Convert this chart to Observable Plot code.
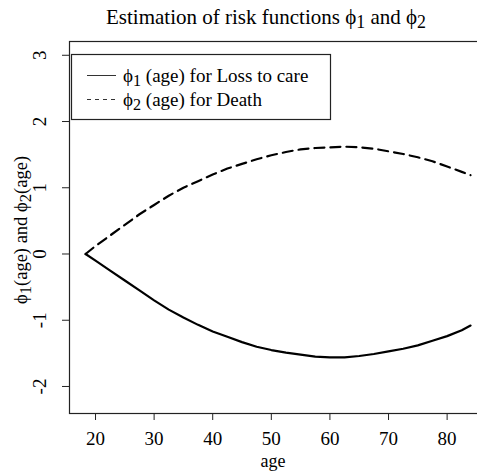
<!DOCTYPE html>
<html><head><meta charset="utf-8">
<script src="https://cdn.jsdelivr.net/npm/d3@7"></script>
<script src="https://cdn.jsdelivr.net/npm/@observablehq/plot@0.6"></script>
<style>html,body{margin:0;padding:0;background:#fff;overflow:hidden}</style>
</head><body><div id="chart"></div>
<script>
const ages = [18.3, 20, 22.5, 25, 27.5, 30, 32.5, 35, 37.5, 40, 42.5, 45, 47.5, 50, 52.5, 55, 57.5, 60, 62.5, 65, 67.5, 70, 72.5, 75, 77.5, 80, 82.5, 84];
const phi1 = [0, -0.10, -0.25, -0.40, -0.55, -0.70, -0.84, -0.96, -1.07, -1.17, -1.25, -1.33, -1.40, -1.45, -1.49, -1.52, -1.55, -1.56, -1.56, -1.54, -1.51, -1.47, -1.43, -1.38, -1.31, -1.24, -1.15, -1.08];
const phi2 = [0, 0.12, 0.28, 0.44, 0.60, 0.74, 0.88, 1.00, 1.10, 1.20, 1.29, 1.36, 1.43, 1.49, 1.54, 1.58, 1.60, 1.61, 1.62, 1.61, 1.59, 1.55, 1.51, 1.46, 1.40, 1.32, 1.24, 1.19];
const xTicks = [20, 30, 40, 50, 60, 70, 80];
const yTicks = [-2, -1, 0, 1, 2, 3];
const PHI = "\u03D5";
const legendLabels = [[PHI, "1", " (age) for Loss to care"], [PHI, "2", " (age) for Death"]];

const d1 = ages.map((a, i) => ({age: a, v: phi1[i]}));
const d2 = ages.map((a, i) => ({age: a, v: phi2[i]}));
const FONT = "Liberation Serif, Times New Roman, serif";

const chart = Plot.plot({
  width: 477, height: 474,
  marginLeft: 69, marginRight: -8, marginTop: 41, marginBottom: 61,
  style: {fontFamily: FONT, fontSize: "18px", background: "#fff", color: "#000"},
  x: {domain: [15.56, 86.55]},
  y: {domain: [-2.408, 3.208]},
  marks: [
    Plot.frame({stroke: "#222", strokeWidth: 1.2}),
    Plot.axisX({ticks: xTicks, tickSize: 7, tickPadding: 11, fontSize: 19, label: null, stroke: "#222", tickFormat: d => String(d)}),
    Plot.axisY({ticks: yTicks, tickSize: 7, tickPadding: 17, tickRotate: -90, textAnchor: "middle", fontSize: 19, label: null, stroke: "#222",
      tickFormat: d => d < 0 ? "-" + Math.abs(d) : String(d)}),
    Plot.line(d1, {x: "age", y: "v", stroke: "#000", strokeWidth: 2.2, curve: "linear"}),
    Plot.line(d2, {x: "age", y: "v", stroke: "#000", strokeWidth: 2.2, strokeDasharray: "10,6", curve: "linear"})
  ]
});
document.getElementById("chart").appendChild(chart);

const svg = d3.select(chart);
function subText(sel, parts, subSize) {
  parts.forEach(([t, sub]) => {
    const ts = sel.append("tspan").text(t);
    if (sub) ts.attr("font-size", subSize).attr("baseline-shift", "-22%");
  });
}
// Title
const title = svg.append("text").attr("x", 266).attr("y", 24).attr("text-anchor", "middle")
  .attr("font-family", FONT).attr("font-size", 21).attr("fill", "#000");
subText(title, [["Estimation of risk functions " + PHI, false], ["1", true], [" and " + PHI, false], ["2", true]], "0.85em");

// x label
svg.append("text").attr("x", 273).attr("y", 467).attr("text-anchor", "middle")
  .attr("font-family", FONT).attr("font-size", 18).text("age");

// y label
const yl = svg.append("text").attr("transform", "translate(27,230) rotate(-90)").attr("text-anchor", "middle")
  .attr("font-family", FONT).attr("font-size", 18.5);
subText(yl, [[PHI, false], ["1", true], ["(age) and " + PHI, false], ["2", true], ["(age)", false]], "0.9em");

// Legend
const lg = svg.append("g");
lg.append("rect").attr("x", 71.5).attr("y", 54.5).attr("width", 259).attr("height", 65)
  .attr("fill", "#fff").attr("stroke", "#222").attr("stroke-width", 1.2);
const rows = [75.5, 99.5];
rows.forEach((yy, i) => {
  lg.append("line").attr("x1", 87).attr("x2", 116).attr("y1", yy).attr("y2", yy)
    .attr("stroke", "#333").attr("stroke-width", 1).attr("stroke-dasharray", i === 1 ? "4,4" : null);
  const t = lg.append("text").attr("x", 123).attr("y", yy + 6.5).attr("text-anchor", "start")
    .attr("font-family", FONT).attr("font-size", 19);
  const p = legendLabels[i];
  subText(t, [[p[0], false], [p[1], true], [p[2], false]], "0.85em");
});
</script>
</body></html>
